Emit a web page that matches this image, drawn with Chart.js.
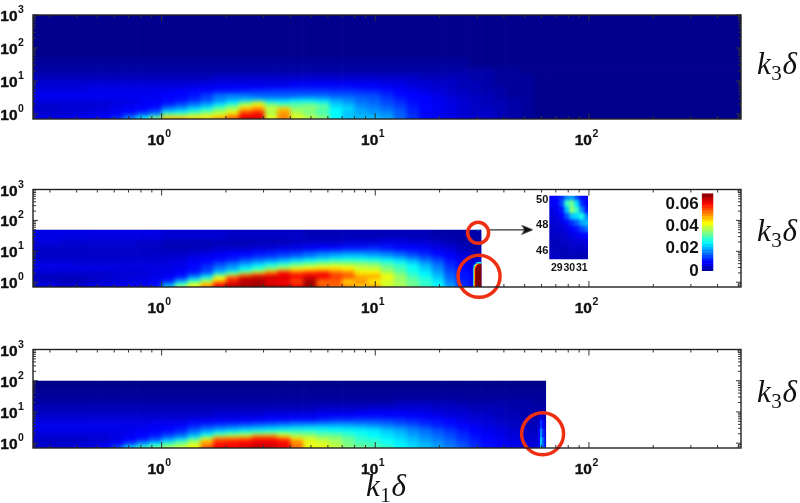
<!DOCTYPE html>
<html>
<head>
<meta charset="utf-8">
<script src="https://cdn.jsdelivr.net/npm/chart.js@4/dist/chart.umd.min.js"></script>
<style>
body { margin: 0; background: #fff; }
#page { position: relative; width: 800px; height: 503px; overflow: hidden; }
canvas { position: absolute; left: 0; }
.math { position: absolute; font: 31px "Liberation Serif", serif; color: #111; white-space: nowrap; letter-spacing: 0.6px; }
.math i { font-style: italic; }
.math sub { font-size: 21px; line-height: 0; vertical-align: -6px; }
</style>
</head>
<body>
<div id="page">
  <canvas id="panel1" style="top:0" width="800" height="165"></canvas>
  <canvas id="panel2" style="top:165px" width="800" height="170"></canvas>
  <canvas id="panel3" style="top:325px" width="800" height="178"></canvas>
  <canvas id="inset" style="left:515px;top:185px" width="80" height="95"></canvas>
  <canvas id="colorbar" style="left:650px;top:180px" width="70" height="105"></canvas>
  <div class="math" style="left:757px;top:46px"><i>k</i><sub>3</sub><i>δ</i></div>
  <div class="math" style="left:757px;top:213px"><i>k</i><sub>3</sub><i>δ</i></div>
  <div class="math" style="left:757px;top:374px"><i>k</i><sub>3</sub><i>δ</i></div>
  <div class="math" style="left:366px;top:468px"><i>k</i><sub>1</sub><i>δ</i></div>
</div>
<script>
// cell edges, shared by the three panels
const k1Edges = [0.25, 0.29, 0.33, 0.38, 0.44, 0.50, 0.58, 0.66, 0.76, 0.87, 1.0, 1.15, 1.32, 1.52, 1.74, 2.0, 2.3, 2.64, 3.03, 3.48, 4.0, 4.6, 5.3, 6.1, 7.0, 8.0, 9.2, 10.6, 12.2, 14, 16, 18.4, 21, 24, 27.5, 31, 36, 41, 48, 55, 63, 73, 85, 100, 150, 250, 515]
const k3Edges = [0.705, 0.87, 1.07, 1.32, 1.63, 2.0, 2.5, 3.1, 3.8, 4.7, 5.8, 7.2, 11, 17, 26, 50, 100, 1000]

const xMajor = [1, 10, 100]
const xMinor = [0.3, 0.4, 0.5, 0.6, 0.7, 0.8, 0.9, 2, 3, 4, 5, 6, 7, 8, 9, 20, 30, 40, 50, 60, 70, 80, 90, 200, 300, 400, 500]
const yMajor = [1, 10, 100, 1000]
const yMinor = [0.8, 0.9, 2, 3, 4, 5, 6, 7, 8, 9, 20, 30, 40, 50, 60, 70, 80, 90, 200, 300, 400, 500, 600, 700, 800, 900]

// values in units of 0.001, bottom row first
const panel1 = [
  [6,6,6,7,7,8,12,18,26,36,48,48,46,46,50,56,64,64,42,52,42,40,36,26,23,22,22,20,16,12,9,7,6,5,4.5,4,3,2,1],
  [5,5,5,6,6,7,9,12,16,20,36,36,38,40,42,48,60,62,40,52,40,36,33,26,22,21,20,19,15,12,9,7,6,5,4,4,3,2,1],
  [5,5,5,5,6,6,7,9,11,14,24,26,30,34,38,42,56,58,38,50,38,34,31,26,22,20,19,18,15,11,9,7,6,5,4,4,3,2,1],
  [4,4,5,5,5,6,7,8,9,11,18,20,24,28,34,38,48,52,40,48,36,36,32,26,24,20,18,16,14,11,9,7,6,5,4,4,3,2,1],
  [4,4,5,5,5,5,6,7,8,9,13,16,19,22,28,34,42,46,38,36,34,36,34,24,22,18,17,15,13,10,9,7,6,5,4,3,3,2,1],
  [5,5,5,5,5,5,6,6,7,8,10,12,15,18,22,26,34,42,30,28,30,30,28,22,20,17,16,14,12,10,8,7,6,5,4,3,3,2,1],
  [6,6,6,6,6,6,6,6,7,7,9,10,12,14,17,20,22,22,22,22,24,24,22,20,18,16,15,13,11,9,8,7,6,5,4,3,2,2,1],
  [7,7,7,7,7,7,7,7,7,7,8,9,10,13,18,19,18,17,16,16,17,18,18,16,16,15,14,12,10,9,8,6,5,4,4,3,2,1,1],
  [7,7,7,7,7,7,7,7,7,7,8,9,10,12,14,15,15,14,14,14,14,14,14,14,14,13,13,11,9,8,7,6,5,4,3,3,2,1,1],
  [6,6,6,6,6,6,6,6,6,7,7,8,9,9,10,10,11,12,13,13,13,13,13,12,12,12,11,10,8,7,6,5,4,4,3,2,2,1,1],
  [5,5,5,5,6,6,6,6,6,6,6,6,7,7,8,8,8,9,9,9,10,10,10,10,10,9,9,8,7,6,5,5,4,3,3,2,2,1,1],
  [5,5,5,5,5,5,5,5,5,5,5,5,5,6,6,6,6,6,6,6,7,7,7,7,7,7,7,6,6,5,5,4,4,3,3,2,1,1,1],
  [3,3,3,3,3,3,3,3,3,3,3,3,3,3,4,4,4,4,4,4,4,4,4,4,4,4,4,4,4,4,3,3,3,3,2,2,1,1,1],
  [2,2,2,2,2,2,2,2,2,2,2,2,2,2,2,2,2,2,2,2,2,2,2,2,2,2,2,2,2,2,2,2,2,2,2,2,1,1],
  [1,1,1,1,1,1,1,1,1,1,1,1,1,1,1,1,1,1,1,1,1,1,1,1,1,1,1,1,1,1,1,1,1,1]
]
const panel2 = [
  [6,6,5,5,6,6,7,7,7,10,22,36,44,52,62,66,68,68,66,66,62,68,56,54,52,46,50,40,38,34,30,26,20,12,9],
  [5,5,4,4,5,5,6,6,6,8,16,28,38,46,58,64,66,68,64,62,58,68,54,56,48,52,46,42,38,34,30,26,18,11,9],
  [4,4,3,3,4,5,5,6,6,7,10,18,28,36,46,58,66,66,62,62,56,66,54,54,46,50,44,40,36,33,29,24,17,11,9],
  [3,3,3,3,4,4,5,5,6,6,8,12,20,28,44,58,64,66,66,64,62,66,62,58,56,50,50,44,38,32,28,23,16,10,8],
  [4,4,4,4,4,4,5,5,5,6,7,9,14,20,32,40,52,58,60,62,60,60,62,56,54,48,48,42,36,30,26,21,15,10,7],
  [5,5,5,5,5,5,5,5,5,6,6,8,10,14,22,28,34,40,50,60,54,58,58,54,52,44,44,38,33,28,25,20,14,10,7],
  [6,6,6,6,6,6,6,6,6,6,6,7,9,12,17,20,26,30,36,40,44,44,46,46,44,40,40,35,31,27,23,18,13,9,6],
  [6,6,6,6,6,6,6,6,6,6,6,6,9,12,16,19,23,27,31,34,37,40,42,43,42,40,38,34,31,27,22,18,12,8,6],
  [6,6,6,5,5,5,5,5,5,5,6,6,8,10,13,16,19,22,25,28,31,33,35,36,36,35,34,31,28,24,20,15,11,8,5],
  [5,5,5,5,5,5,5,5,5,5,5,6,7,9,10,12,15,17,19,21,24,27,29,30,30,30,29,27,24,21,17,14,10,7,5],
  [4,4,4,4,4,4,4,5,5,5,5,5,6,8,9,10,12,14,15,17,19,21,23,25,26,26,25,23,21,18,15,12,9,6,4],
  [4,4,4,4,4,4,4,4,4,4,4,4,5,6,7,8,9,10,11,12,13,15,17,18,19,19,18,17,15,13,11,9,7,5,3],
  [4,4,4,4,4,4,4,4,4,4,3,3,3,3,4,4,4,5,5,6,6,7,8,9,10,10,11,10,9,8,7,6,5,3,2],
  [6,6,5,5,5,5,5,5,4,4,3,3,3,3,3,3,3,3,3,3,4,4,4,4,5,5,5,6,6,5,5,4,3,2,2],
  [6,6,6,6,6,6,6,6,6,6,5,5,5,5,5,4,4,4,4,4,4,3,3,3,3,3,3,3,3,3,3,2,2,2,2]
]
const panel3 = [
  [5,5,5,6,6,8,14,24,30,34,38,40,44,56,62,62,64,66,64,62,54,44,42,40,36,34,32,30,26,24,22,20,18,15,12,10,8,7,6,6],
  [4,4,4,5,5,6,9,14,20,26,32,36,40,50,60,60,62,64,64,62,52,40,42,38,34,32,30,28,25,23,21,19,16,14,11,9,8,6,5,5],
  [4,4,4,4,5,5,7,10,14,18,24,30,38,50,58,60,60,62,62,60,52,44,40,38,34,30,30,27,25,22,20,18,16,13,11,9,7,6,5,5],
  [4,4,4,4,5,5,6,8,10,13,18,22,30,42,54,54,56,60,60,56,46,40,38,36,34,30,28,26,24,22,19,17,15,12,10,8,7,6,5,4],
  [5,5,5,5,5,5,6,7,9,11,14,17,22,28,38,40,42,50,50,44,38,38,34,34,30,28,26,24,22,20,18,16,14,12,10,8,6,5,4,4],
  [6,6,6,6,6,6,6,7,8,9,11,13,18,23,27,29,31,33,34,34,33,32,31,30,29,27,26,24,22,19,17,15,13,11,9,7,6,5,4,4],
  [6,6,6,6,6,6,6,6,7,8,9,11,15,18,20,22,24,25,26,27,28,28,27,26,26,25,24,22,20,18,16,14,12,10,8,7,6,5,4,3],
  [7,7,7,7,7,7,7,7,7,7,8,9,12,14,16,17,18,19,20,21,22,23,23,23,22,22,21,19,18,16,14,12,11,9,8,6,5,4,3,3],
  [6,6,6,6,6,6,6,6,6,7,7,8,10,11,12,13,14,15,16,17,18,18,19,19,19,18,17,16,14,13,11,10,8,7,6,5,4,3,3,3],
  [6,6,6,6,6,6,6,6,6,6,6,6,7,7,8,8,9,10,10,11,12,12,13,14,14,14,14,14,13,12,11,10,9,7,6,5,4,4,3,3],
  [5,5,5,5,5,5,5,5,5,5,5,5,6,6,6,6,7,7,8,8,9,9,10,11,11,12,12,11,11,10,9,8,7,6,5,5,4,3,3,2],
  [4,4,4,4,4,4,4,4,4,4,4,4,4,4,5,5,5,5,6,6,6,6,7,7,7,8,8,8,8,7,7,6,5,5,4,4,3,3,2,2],
  [3,3,3,3,3,3,3,3,3,3,3,3,3,3,3,3,3,3,3,3,3,3,4,4,4,4,5,5,5,5,5,4,4,4,3,3,3,2,2,2],
  [2,2,2,2,2,2,2,2,2,2,2,2,2,2,2,2,2,2,2,2,2,2,2,2,2,2,2,2,3,3,3,3,3,2,2,2,2,2,2,1],
  [1,1,1,1,1,1,1,1,1,1,1,1,1,1,1,1,1,1,1,1,1,1,1,1,1,1,1,1,1,1,1,1,1,1,1,1,1,1,1,1]
]

// narrow features at the right end of panels 2 and 3, not blurred
const spike2K1 = [28.6, 28.9, 29.2, 29.6, 30, 30.4, 31.4]
const spike2K3 = [0.705, 2.9, 3.4, 3.8, 4.2, 4.6]
const spike2 = [
  [22, 46, 66, 70, 70, 70],
  [18, 36, 58, 70, 70, 70],
  [9, 24, 44, 62, 70, 70],
  [4, 10, 24, 44, 60, 66],
  [4, 5, 9, 18, 26, 28]
]
const spike3K1 = [57.5, 59, 60.5, 62, 63]
const spike3K3 = [0.705, 1.63, 3.1, 5.8, 11]
const spike3 = [
  [8, 22, 14, 6],
  [7, 18, 11, 5],
  [5, 12, 8, 4],
  [3, 6, 4, 3]
]

// zoomed inset of panel 2
const insetK1 = [28.4, 28.8, 29.2, 29.6, 30, 30.4, 30.8, 31.2, 31.5]
const insetK3 = [45.35, 46, 46.5, 47, 47.5, 48, 48.5, 49, 49.5, 50, 50.3]
const inset = [
  [4, 4, 3, 3, 3, 3, 3, 3],
  [3, 3, 3, 3, 4, 4, 4, 4],
  [3, 3, 4, 4, 5, 5, 5, 6],
  [4, 4, 4, 5, 6, 7, 8, 9],
  [4, 5, 5, 6, 8, 10, 13, 16],
  [5, 5, 6, 9, 12, 15, 20, 22],
  [5, 6, 8, 14, 22, 24, 28, 18],
  [6, 7, 10, 22, 36, 30, 18, 10],
  [7, 8, 14, 30, 34, 24, 12, 8],
  [8, 9, 12, 18, 20, 14, 9, 7]
]
const insetXTicks = [29, 30, 31]
const insetYTicks = [46, 48, 50]

const colorbarLevels = [0, 2, 5, 7, 10, 12, 15, 17, 20, 22, 25, 27, 30, 32, 35, 37, 40, 42, 45, 47, 50, 52, 55, 57, 60, 62, 65, 67, 70]
const colorbarTicks = [0, 0.02, 0.04, 0.06]

function jet(v) {
  let t = v / 70
  let c = n => Math.round(255 * Math.max(0, Math.min(1, n)))
  let r = c(Math.min(4 * t - 1.5, -4 * t + 4.5))
  let g = c(Math.min(4 * t - 0.5, -4 * t + 3.5))
  let b = c(Math.min(4 * t + 0.55, -4 * t + 2.5))
  return `rgb(${r},${g},${b})`
}

function makeCells(xEdges, yEdges, rows) {
  let cells = []
  for (let j = 0; j < yEdges.length - 1; j++) {
    for (let i = 0; i < xEdges.length - 1; i++) {
      let row = rows[j] || []
      cells.push({ x: xEdges[i], x2: xEdges[i + 1], y: yEdges[j], y2: yEdges[j + 1], v: row[i] || 0 })
    }
  }
  return cells
}

function paintCells(chart, ds) {
  const { ctx, scales } = chart
  let px = ds.data.map(c => ({
    l: scales.x.getPixelForValue(c.x), r: scales.x.getPixelForValue(c.x2),
    t: scales.y.getPixelForValue(c.y2), b: scales.y.getPixelForValue(c.y), v: c.v
  }))
  let left = Math.min(...px.map(p => p.l)), right = Math.max(...px.map(p => p.r))
  let top = Math.min(...px.map(p => p.t)), bottom = Math.max(...px.map(p => p.b))
  // cells go to a scratch canvas first, blurring them one by one leaves seams
  let scratch = document.createElement('canvas')
  scratch.width = chart.width + 40
  scratch.height = chart.height + 40
  let sc = scratch.getContext('2d')
  let pad = ds.blur ? 12 : 0
  px.forEach(p => {
    let l = p.l <= left ? p.l - pad : p.l, r = p.r >= right ? p.r + pad : p.r
    let t = p.t <= top ? p.t - pad : p.t, b = p.b >= bottom ? p.b + pad : p.b
    sc.fillStyle = jet(p.v)
    sc.fillRect(l + 20, t + 20, r - l + 0.6, b - t + 0.6)
  })
  ctx.save()
  ctx.beginPath()
  ctx.rect(left, top, right - left, bottom - top)
  ctx.clip()
  if (ds.blur) ctx.filter = `blur(${ds.blur}px)`
  ctx.drawImage(scratch, -20, -20)
  ctx.restore()
}

// heat cells go under the chart's own points
const cellsPlugin = {
  id: 'cells',
  beforeDatasetsDraw(chart) {
    chart.data.datasets.forEach(ds => { if (ds.cells) paintCells(chart, ds) })
  }
}

function powerLabel(ctx, exp, x, y) {
  ctx.fillStyle = '#111'
  ctx.strokeStyle = '#111'
  ctx.lineWidth = 0.4
  ctx.textBaseline = 'alphabetic'
  ctx.font = 'bold 15.5px "Liberation Sans"'
  ctx.textAlign = 'right'
  ctx.fillText('10', x, y)
  ctx.strokeText('10', x, y)
  ctx.font = 'bold 10.5px "Liberation Sans"'
  ctx.textAlign = 'left'
  ctx.fillText(exp, x + 0.5, y - 8)
}

// log axes of a panel: inward ticks under the cells, frame and labels over them
const logFramePlugin = {
  id: 'logFrame',
  beforeDatasetsDraw(chart) {
    const { ctx, chartArea: a, scales } = chart
    ctx.save()
    ctx.strokeStyle = '#333'
    ctx.lineWidth = 1
    let line = (x1, y1, x2, y2) => {
      ctx.beginPath()
      ctx.moveTo(x1, y1)
      ctx.lineTo(x2, y2)
      ctx.stroke()
    }
    let xTick = (v, len) => {
      let x = scales.x.getPixelForValue(v)
      line(x, a.top, x, a.top + len)
      line(x, a.bottom, x, a.bottom - len)
    }
    let yTick = (v, len) => {
      let y = scales.y.getPixelForValue(v)
      line(a.left, y, a.left + len, y)
      line(a.right, y, a.right - len, y)
    }
    xMinor.forEach(v => xTick(v, 3))
    xMajor.forEach(v => xTick(v, 6))
    yMinor.forEach(v => yTick(v, 3))
    yMajor.forEach(v => yTick(v, 5))
    ctx.restore()
  },
  afterDatasetsDraw(chart) {
    const { ctx, chartArea: a, scales } = chart
    ctx.save()
    ctx.strokeStyle = '#222'
    ctx.lineWidth = 1.4
    ctx.strokeRect(a.left, a.top, a.right - a.left, a.bottom - a.top)
    xMajor.forEach((v, i) => powerLabel(ctx, String(i), scales.x.getPixelForValue(v) + 3, a.bottom + 26))
    yMajor.forEach((v, i) => powerLabel(ctx, String(i), 17.5, scales.y.getPixelForValue(v) + 6))
    ctx.restore()
  }
}

function ringSet(x, y, radius) {
  return {
    data: [{ x, y }], pointRadius: radius, pointBackgroundColor: 'transparent',
    pointBorderColor: '#ee2f12', pointBorderWidth: 3.5, clip: false
  }
}

function panelChart(id, padding, datasets) {
  return new Chart(document.getElementById(id), {
    type: 'scatter',
    data: { datasets },
    options: {
      responsive: false,
      animation: false,
      layout: { padding },
      plugins: { legend: { display: false }, tooltip: { enabled: false } },
      scales: {
        x: { type: 'logarithmic', min: 0.25, max: 515, display: false },
        y: { type: 'logarithmic', min: 0.705, max: 1000, display: false }
      }
    },
    plugins: [cellsPlugin, logFramePlugin]
  })
}

const field = (xEdges, yEdges, rows) => ({ cells: true, blur: 2, pointRadius: 0, data: makeCells(xEdges, yEdges, rows) })
const sharp = (xEdges, yEdges, rows) => ({ cells: true, pointRadius: 0, data: makeCells(xEdges, yEdges, rows) })

// stealth head for the arrow to the inset
const arrowHead = document.createElement('canvas')
arrowHead.width = 12
arrowHead.height = 10
{
  let c = arrowHead.getContext('2d')
  c.fillStyle = '#111'
  c.beginPath()
  c.moveTo(12, 5)
  c.lineTo(0, 0)
  c.lineTo(3, 5)
  c.lineTo(0, 10)
  c.closePath()
  c.fill()
}

panelChart('panel1', { left: 33, right: 59, top: 15, bottom: 46 }, [
  field(k1Edges, k3Edges, panel1)
])

panelChart('panel2', { left: 33, right: 59, top: 18, bottom: 48 }, [
  field(k1Edges.slice(0, 35).concat([31.4]), k3Edges.slice(0, 16), panel2),
  sharp(spike2K1, spike2K3, spike2),
  sharp(insetK1.slice(2, 8), insetK3.slice(5), inset.slice(5).map(r => r.slice(2))),
  ringSet(30.3, 39.5, 10.5),
  ringSet(30.6, 1.55, 21),
  {
    data: [{ x: 34, y: 49.7 }, { x: 51.5, y: 49.7 }], showLine: true, borderColor: '#333', borderWidth: 1.3,
    pointRadius: [0, 6], pointStyle: ['circle', arrowHead], clip: false
  }
])

panelChart('panel3', { left: 33, right: 59, top: 19, bottom: 55 }, [
  field(k1Edges.slice(0, 41), k3Edges.slice(0, 17), panel3),
  sharp(spike3K1, spike3K3, spike3),
  ringSet(60.7, 2.0, 21)
])

new Chart(document.getElementById('inset'), {
  type: 'scatter',
  data: { datasets: [{ cells: true, blur: 1.6, pointRadius: 0, data: makeCells(insetK1, insetK3, inset) }] },
  options: {
    responsive: false,
    animation: false,
    layout: { padding: { left: 0, right: 7, top: 10.7, bottom: 0 } },
    plugins: { legend: { display: false }, tooltip: { enabled: false } },
    scales: {
      x: {
        type: 'linear', min: 28.4, max: 31.5,
        grid: { display: false, drawTicks: false }, border: { display: false },
        afterBuildTicks: s => { s.ticks = insetXTicks.map(value => ({ value })) },
        afterFit: s => { s.height = 95 - 74.3 },
        ticks: { color: '#111', font: { family: 'Liberation Sans', weight: 'bold', size: 10.5 }, padding: 3, maxRotation: 0, autoSkip: false }
      },
      y: {
        type: 'linear', min: 45.35, max: 50.3,
        grid: { display: false, drawTicks: false }, border: { display: false },
        afterBuildTicks: s => { s.ticks = insetYTicks.map(value => ({ value })) },
        afterFit: s => { s.width = 34.3 },
        ticks: { color: '#111', font: { family: 'Liberation Sans', weight: 'bold', size: 11 }, padding: 1 }
      }
    }
  },
  plugins: [cellsPlugin]
})

new Chart(document.getElementById('colorbar'), {
  type: 'scatter',
  data: {
    datasets: [{
      cells: true, pointRadius: 0,
      data: colorbarLevels.slice(0, -1).map((v, i) => ({ x: 0, x2: 1, y: v / 1000, y2: colorbarLevels[i + 1] / 1000, v: (v + colorbarLevels[i + 1]) / 2 }))
    }]
  },
  options: {
    responsive: false,
    animation: false,
    layout: { padding: { left: 0, right: 6.7, top: 12.7, bottom: 14 } },
    plugins: { legend: { display: false }, tooltip: { enabled: false } },
    scales: {
      x: { type: 'linear', min: 0, max: 1, display: false },
      y: {
        type: 'linear', min: 0, max: 0.07,
        grid: { display: false, drawTicks: false }, border: { display: false },
        afterBuildTicks: s => { s.ticks = colorbarTicks.map(value => ({ value })) },
        afterFit: s => { s.width = 51.7 },
        ticks: {
          color: '#111', font: { family: 'Liberation Sans', weight: 'bold', size: 17 }, padding: 3,
          callback: v => v === 0 ? '0' : v.toFixed(2)
        }
      }
    }
  },
  plugins: [cellsPlugin]
})
</script>
</body>
</html>
